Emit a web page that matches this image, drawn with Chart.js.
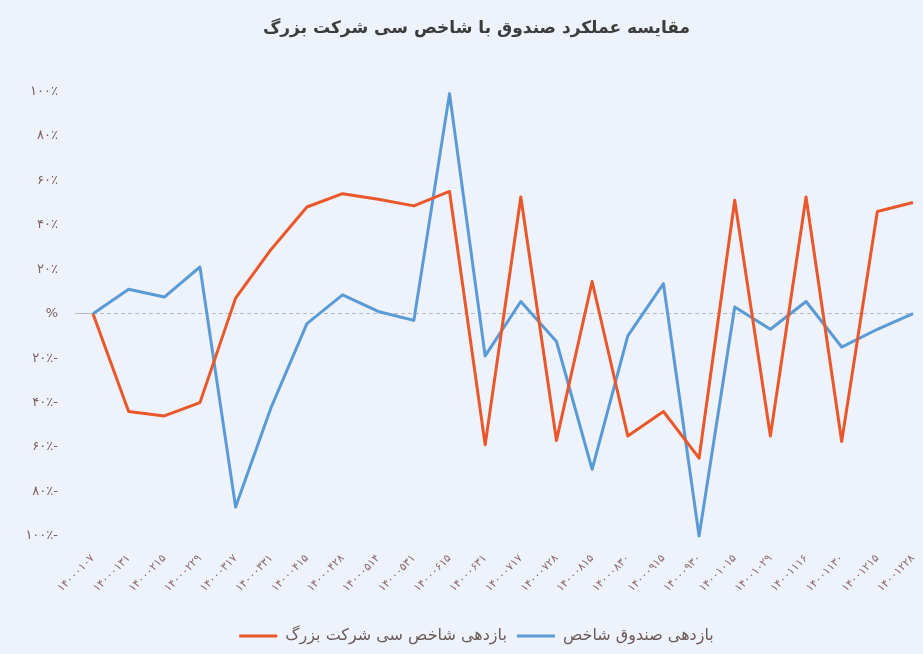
<!DOCTYPE html>
<html>
<head>
<meta charset="utf-8">
<script src="https://cdn.jsdelivr.net/npm/chart.js@4"></script>
<style>
  html, body { margin: 0; padding: 0; background: #eef2fa; }
  #wrap { width: 923px; height: 654px; }
</style>
</head>
<body>
<div id="wrap"><canvas id="chart"></canvas></div>
<script>
"use strict";

// dates (yyyymmdd, persian digits)
const dates = ['۱۴۰۰۰۱۰۷', '۱۴۰۰۰۱۳۱', '۱۴۰۰۰۲۱۵', '۱۴۰۰۰۲۲۹', '۱۴۰۰۰۳۱۷', '۱۴۰۰۰۳۳۱',
    '۱۴۰۰۰۴۱۵', '۱۴۰۰۰۴۲۸', '۱۴۰۰۰۵۱۴', '۱۴۰۰۰۵۳۱', '۱۴۰۰۰۶۱۵', '۱۴۰۰۰۶۳۱',
    '۱۴۰۰۰۷۱۷', '۱۴۰۰۰۷۲۸', '۱۴۰۰۰۸۱۵', '۱۴۰۰۰۸۳۰', '۱۴۰۰۰۹۱۵', '۱۴۰۰۰۹۳۰',
    '۱۴۰۰۱۰۱۵', '۱۴۰۰۱۰۲۹', '۱۴۰۰۱۱۱۶', '۱۴۰۰۱۱۳۰', '۱۴۰۰۱۲۱۵', '۱۴۰۰۱۲۲۸'];

const indexReturns = [0, -44, -46, -40, 7, 29, 48, 54, 51.5, 48.5, 55, -59,
    52.5, -57, 14.5, -55, -44, -65, 51, -55, 52.5, -57.5, 46, 50];

const fundReturns = [0, 11, 7.5, 21, -87, -42, -4.5, 8.5, 1, -3, 99, -19,
    5.5, -12.5, -70, -10, 13.5, -100, 3, -7, 5.5, -15, -7, 0];

// y tick labels from -100 to 100 step 20
const yTickLabels = ['۱۰۰٪-', '۸۰٪-', '۶۰٪-', '۴۰٪-', '۲۰٪-', '%',
    '۲۰٪', '۴۰٪', '۶۰٪', '۸۰٪', '۱۰۰٪'];

const seriesNames = ['بازدهی شاخص سی شرکت بزرگ', 'بازدهی صندوق شاخص'];
const chartTitle = 'مقایسه عملکرد صندوق با شاخص سی شرکت بزرگ';

Chart.defaults.font.family = "'DejaVu Sans', sans-serif";

// the y labels stick out left of the axis box, so don't clip them to it
const unclipYLabels = {
    id: 'unclipYLabels',
    afterLayout: function(chart) {
        chart.scales.y.left = 0;
    }
};

const ctx = document.getElementById('chart');

new Chart(ctx, {
    type: 'line',
    data: {
        labels: dates,
        datasets: [
            {
                label: seriesNames[0],
                data: indexReturns,
                borderColor: '#e9572b',
                backgroundColor: '#e9572b',
                borderWidth: 3,
                borderJoinStyle: 'round',
                pointRadius: 0,
                tension: 0,
                clip: false
            },
            {
                label: seriesNames[1],
                data: fundReturns,
                borderColor: '#5b9bd5',
                backgroundColor: '#5b9bd5',
                borderWidth: 3,
                borderJoinStyle: 'round',
                pointRadius: 0,
                tension: 0,
                clip: false
            }
        ]
    },
    plugins: [unclipYLabels],
    options: {
        responsive: true,
        maintainAspectRatio: false,
        animation: false,
        layout: {
            padding: { left: 40, right: 10, top: 0, bottom: 0 }
        },
        plugins: {
            title: {
                display: true,
                text: chartTitle,
                color: '#3c3c3c',
                font: { size: 17, weight: 'bold' },
                padding: { top: 18, bottom: 53 }
            },
            legend: {
                position: 'bottom',
                labels: {
                    usePointStyle: true,
                    pointStyle: 'line',
                    pointStyleWidth: 38,
                    color: '#6b5a5a',
                    font: { size: 16 },
                    padding: 10
                }
            },
            tooltip: { enabled: false }
        },
        scales: {
            x: {
                grid: { display: false },
                border: { display: false },
                afterFit: function(scale) {
                    scale.height = 82;
                    scale.paddingRight = 0;
                },
                ticks: {
                    autoSkip: false,
                    maxRotation: 45,
                    minRotation: 45,
                    color: '#8b6e6e',
                    font: { size: 11 },
                    padding: 8
                }
            },
            y: {
                min: -100,
                max: 100,
                afterFit: function(scale) {
                    scale.width = 53;
                },
                grid: {
                    color: function(c) {
                        return c.tick && c.tick.value === 0 ? '#b9b9c4' : 'transparent';
                    },
                    lineWidth: 1,
                    tickLength: 18
                },
                border: { display: false, dash: [4, 3] },
                ticks: {
                    stepSize: 20,
                    color: '#7a6060',
                    font: { size: 13 },
                    padding: 17,
                    callback: function(value, index) {
                        return yTickLabels[index];
                    }
                }
            }
        }
    }
});
</script>
</body>
</html>
